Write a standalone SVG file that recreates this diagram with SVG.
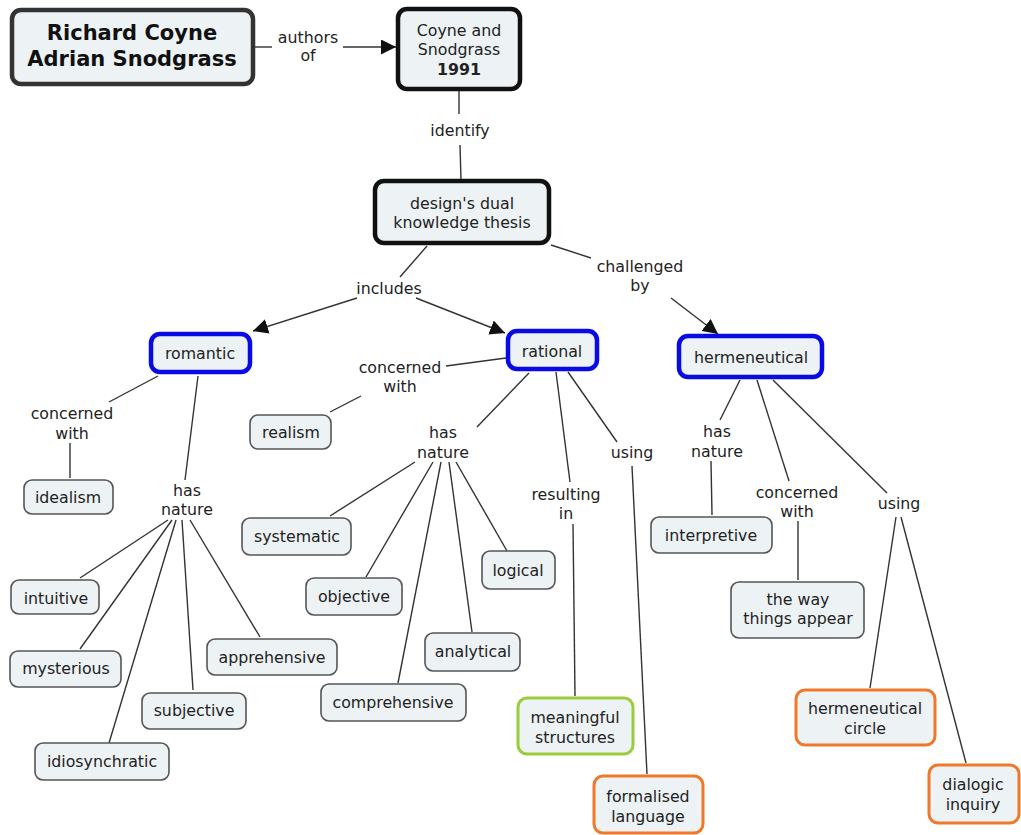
<svg xmlns="http://www.w3.org/2000/svg" width="1021" height="835" viewBox="0 0 1021 835">
  <defs>
    <marker id="arrow" viewBox="0 0 10 10" refX="10" refY="5" markerWidth="15" markerHeight="15" markerUnits="userSpaceOnUse" orient="auto">
      <path d="M0,0 L10,5 L0,10 Z" fill="#111"/>
    </marker>
    <style>
      text { font-family: "DejaVu Sans", Verdana, sans-serif; font-size: 15.8px; fill: #222; text-anchor: middle; }
      .title { font-size: 21px; font-weight: bold; fill: #111; }
      .b { font-weight: bold; }
      .box { fill: #edf2f5; stroke: #555; stroke-width: 1.6; }
      .key { fill: #edf2f5; stroke: #111; stroke-width: 4.5; }
      .top { fill: #edf2f5; stroke: #333; stroke-width: 4.5; }
      .blue { fill: #edf2f5; stroke: #0a0ae6; stroke-width: 4.5; }
      .orange { fill: #edf2f5; stroke: #f0782a; stroke-width: 3; }
      .green { fill: #edf2f5; stroke: #9ccc3c; stroke-width: 3; }
      .links line { stroke: #333; stroke-width: 1.4; fill: none; }
      .links line.arr { marker-end: url(#arrow); }
    </style>
  </defs>
  <rect width="1021" height="835" fill="#fff"/>

  <g class="links">
    <line x1="253" y1="47" x2="272" y2="47"/>
    <line class="arr" x1="343" y1="47" x2="396" y2="47"/>
    <line x1="459" y1="90" x2="459" y2="114"/>
    <line x1="460" y1="145" x2="461" y2="180"/>
    <line x1="427" y1="246" x2="400" y2="277"/>
    <line class="arr" x1="357" y1="298" x2="253" y2="331"/>
    <line class="arr" x1="416" y1="298" x2="505" y2="333"/>
    <line x1="551" y1="245" x2="591" y2="258"/>
    <line class="arr" x1="671" y1="298" x2="718" y2="334"/>
    <!-- romantic branch -->
    <line x1="158" y1="376" x2="109" y2="402"/>
    <line x1="70" y1="443" x2="70" y2="478"/>
    <line x1="198" y1="376" x2="185" y2="480"/>
    <line x1="168" y1="520" x2="80" y2="578"/>
    <line x1="172" y1="520" x2="80" y2="649"/>
    <line x1="176" y1="520" x2="109" y2="743"/>
    <line x1="182" y1="520" x2="193" y2="690"/>
    <line x1="190" y1="520" x2="260" y2="637"/>
    <!-- rational branch -->
    <line x1="506" y1="358" x2="446" y2="366"/>
    <line x1="361" y1="396" x2="330" y2="412"/>
    <line x1="529" y1="373" x2="477" y2="427"/>
    <line x1="415" y1="462" x2="330" y2="516"/>
    <line x1="433" y1="462" x2="366" y2="577"/>
    <line x1="441" y1="462" x2="398" y2="683"/>
    <line x1="449" y1="462" x2="472" y2="632"/>
    <line x1="456" y1="462" x2="507" y2="551"/>
    <line x1="556" y1="372" x2="570" y2="482"/>
    <line x1="573" y1="524" x2="575" y2="696"/>
    <line x1="568" y1="372" x2="617" y2="442"/>
    <line x1="632" y1="466" x2="647" y2="774"/>
    <!-- hermeneutical branch -->
    <line x1="740" y1="380" x2="720" y2="420"/>
    <line x1="711" y1="461" x2="712" y2="515"/>
    <line x1="757" y1="380" x2="789" y2="481"/>
    <line x1="798" y1="521" x2="798" y2="580"/>
    <line x1="773" y1="380" x2="887" y2="493"/>
    <line x1="896" y1="517" x2="870" y2="688"/>
    <line x1="901" y1="517" x2="966" y2="763"/>
  </g>

  <g class="labels">
    <text x="308" y="43">authors</text>
    <text x="308" y="61">of</text>
    <text x="460" y="136">identify</text>
    <text x="389" y="294">includes</text>
    <text x="640" y="272">challenged</text>
    <text x="640" y="291">by</text>
    <text x="72" y="419">concerned</text>
    <text x="72" y="439">with</text>
    <text x="187" y="496">has</text>
    <text x="187" y="515">nature</text>
    <text x="400" y="373">concerned</text>
    <text x="400" y="392">with</text>
    <text x="443" y="438">has</text>
    <text x="443" y="458">nature</text>
    <text x="566" y="500">resulting</text>
    <text x="566" y="519">in</text>
    <text x="632" y="458">using</text>
    <text x="717" y="437">has</text>
    <text x="717" y="457">nature</text>
    <text x="797" y="498">concerned</text>
    <text x="797" y="517">with</text>
    <text x="899" y="509">using</text>
  </g>

  <g id="authors">
    <rect class="top" x="12" y="10" width="241" height="74" rx="9"/>
    <text class="title" x="132" y="40">Richard Coyne</text>
    <text class="title" x="132" y="66">Adrian Snodgrass</text>
  </g>
  <g id="coyne1991">
    <rect class="key" x="398" y="9" width="122" height="80" rx="9"/>
    <text x="459" y="36">Coyne and</text>
    <text x="459" y="55">Snodgrass</text>
    <text class="b" x="459" y="75">1991</text>
  </g>
  <g id="thesis">
    <rect class="key" x="375" y="181" width="174" height="62" rx="9"/>
    <text x="462" y="209">design's dual</text>
    <text x="462" y="228">knowledge thesis</text>
  </g>
  <g id="romantic">
    <rect class="blue" x="151" y="334" width="99" height="38" rx="9"/>
    <text x="200" y="359">romantic</text>
  </g>
  <g id="rational">
    <rect class="blue" x="508" y="331" width="89" height="38" rx="9"/>
    <text x="552" y="357">rational</text>
  </g>
  <g id="hermeneutical">
    <rect class="blue" x="679" y="336" width="143" height="41" rx="9"/>
    <text x="751" y="363">hermeneutical</text>
  </g>
  <g id="realism">
    <rect class="box" x="250" y="415" width="81" height="34" rx="8"/>
    <text x="291" y="438">realism</text>
  </g>
  <g id="idealism">
    <rect class="box" x="24" y="480" width="89" height="34" rx="8"/>
    <text x="68" y="503">idealism</text>
  </g>
  <g id="intuitive">
    <rect class="box" x="11" y="580" width="88" height="34" rx="8"/>
    <text x="56" y="604">intuitive</text>
  </g>
  <g id="mysterious">
    <rect class="box" x="10" y="651" width="111" height="36" rx="8"/>
    <text x="66" y="674">mysterious</text>
  </g>
  <g id="subjective">
    <rect class="box" x="142" y="693" width="104" height="36" rx="8"/>
    <text x="194" y="716">subjective</text>
  </g>
  <g id="idiosynchratic">
    <rect class="box" x="35" y="743" width="134" height="37" rx="8"/>
    <text x="102" y="767">idiosynchratic</text>
  </g>
  <g id="apprehensive">
    <rect class="box" x="207" y="639" width="130" height="36" rx="8"/>
    <text x="272" y="663">apprehensive</text>
  </g>
  <g id="systematic">
    <rect class="box" x="242" y="518" width="109" height="37" rx="8"/>
    <text x="297" y="542">systematic</text>
  </g>
  <g id="objective">
    <rect class="box" x="306" y="578" width="96" height="37" rx="8"/>
    <text x="354" y="602">objective</text>
  </g>
  <g id="logical">
    <rect class="box" x="482" y="551" width="73" height="38" rx="8"/>
    <text x="518" y="576">logical</text>
  </g>
  <g id="analytical">
    <rect class="box" x="425" y="633" width="95" height="38" rx="8"/>
    <text x="473" y="657">analytical</text>
  </g>
  <g id="comprehensive">
    <rect class="box" x="321" y="684" width="145" height="37" rx="8"/>
    <text x="393" y="708">comprehensive</text>
  </g>
  <g id="meaningful">
    <rect class="green" x="518" y="698" width="115" height="56" rx="9"/>
    <text x="575" y="723">meaningful</text>
    <text x="575" y="743">structures</text>
  </g>
  <g id="formalised">
    <rect class="orange" x="594" y="776" width="109" height="57" rx="9"/>
    <text x="648" y="802">formalised</text>
    <text x="648" y="822">language</text>
  </g>
  <g id="interpretive">
    <rect class="box" x="651" y="517" width="121" height="36" rx="8"/>
    <text x="711" y="541">interpretive</text>
  </g>
  <g id="wayThings">
    <rect class="box" x="731" y="582" width="133" height="56" rx="8"/>
    <text x="798" y="605">the way</text>
    <text x="798" y="624">things appear</text>
  </g>
  <g id="hermCircle">
    <rect class="orange" x="796" y="690" width="139" height="55" rx="9"/>
    <text x="865" y="714">hermeneutical</text>
    <text x="865" y="734">circle</text>
  </g>
  <g id="dialogic">
    <rect class="orange" x="929" y="765" width="90" height="58" rx="9"/>
    <text x="973" y="790">dialogic</text>
    <text x="973" y="810">inquiry</text>
  </g>
</svg>
